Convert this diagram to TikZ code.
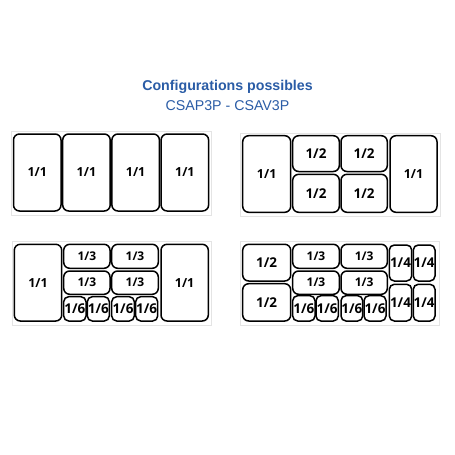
\documentclass[tikz,border=0pt]{standalone}
\usepackage{fontspec}
\setmainfont{Liberation Sans}
\newfontfamily\labfont{Open Sans}
\definecolor{ttl}{RGB}{42,92,166}
\definecolor{frm}{RGB}{228,228,228}
\tikzset{
  box/.style={draw=black,line width=1.5pt,rounded corners=6pt,inner sep=0pt,fill=white,
    font=\labfont\bfseries\fontsize{12.5}{13}\selectfont},
  sm/.style={rounded corners=5pt,font=\labfont\bfseries\fontsize{13.5}{14}\selectfont},
  third/.style={font=\labfont\bfseries\fontsize{12}{13}\selectfont},
  half/.style={font=\labfont\bfseries\fontsize{13.5}{14}\selectfont},
  frame/.style={draw=frm,line width=0.8pt}
}
\newcommand\bx[7][]{\node[box,#1,minimum width={(#4)-(#2)},minimum height={(#5)-(#3)}] (#6) at ({((#2)+(#4))/2},{((#3)+(#5))/2}) {#7};}
\begin{document}
\begin{tikzpicture}[x=1pt,y=-1pt]
\useasboundingbox[fill=white] (0,0) rectangle (455,455);
\node[font=\bfseries\fontsize{14.2}{16}\selectfont,text=ttl,anchor=base,inner sep=0pt] (title) at (227.5,90.5) {Configurations possibles};
\node[font=\fontsize{14.2}{16}\selectfont,text=ttl,anchor=base,inner sep=0pt] (sub) at (227.5,110) {CSAP3P - CSAV3P};
% frames
\draw[frame] (11,131.5) rectangle (211,215);
\draw[frame] (240,133) rectangle (440,216);
\draw[frame] (12,241) rectangle (211,325);
\draw[frame] (240,241) rectangle (439,325);
% panel 1
\bx{13.5}{134}{61}{211}{a1}{1/1}
\bx{62.7}{134}{110.2}{211}{a2}{1/1}
\bx{111.9}{134}{159.4}{211}{a3}{1/1}
\bx{161.1}{134}{208.6}{211}{a4}{1/1}
% panel 2
\bx{242.7}{135.7}{290.7}{212.3}{b1}{1/1}
\bx[half]{292.7}{135.7}{339.3}{171.5}{b2}{1/2}
\bx[half]{341}{135.7}{387.3}{171.5}{b3}{1/2}
\bx[half]{292.7}{174.3}{339.3}{212.3}{b4}{1/2}
\bx[half]{341}{174.3}{387.3}{212.3}{b5}{1/2}
\bx{390}{135.7}{437}{212.3}{b6}{1/1}
% panel 3
\bx{14.3}{244.3}{61.7}{321}{c1}{1/1}
\bx[third]{63.7}{244.3}{110}{268.3}{c2}{1/3}
\bx[third]{111.7}{244.3}{158.3}{268.3}{c3}{1/3}
\bx[third]{63.7}{271}{110}{294.3}{c4}{1/3}
\bx[third]{111.7}{271}{158.3}{294.3}{c5}{1/3}
\bx[sm]{63.7}{296.7}{86}{321}{c6}{1/6}
\bx[sm]{87.3}{296.7}{109.3}{321}{c7}{1/6}
\bx[sm]{111.7}{296.7}{134.3}{321}{c8}{1/6}
\bx[sm]{135.7}{296.7}{157.7}{321}{c9}{1/6}
\bx{161}{244.3}{208.3}{321}{c10}{1/1}
% panel 4
\bx[half]{242.7}{244.3}{290.7}{281}{d1}{1/2}
\bx[half]{242.7}{283.7}{290.7}{321}{d2}{1/2}
\bx[third]{292.7}{244.3}{339.3}{268.3}{d3}{1/3}
\bx[third]{341}{244.3}{387.3}{268.3}{d4}{1/3}
\bx[third]{292.7}{271}{339.3}{294.3}{d5}{1/3}
\bx[third]{341}{271}{387.3}{294.3}{d6}{1/3}
\bx[sm]{292.7}{295.7}{315}{321}{d7}{1/6}
\bx[sm]{316}{295.7}{338.3}{321}{d8}{1/6}
\bx[sm]{341}{295.7}{362.7}{321}{d9}{1/6}
\bx[sm]{364}{295.7}{386}{321}{d10}{1/6}
\bx[sm]{389.3}{245}{411.7}{281}{d11}{1/4}
\bx[sm]{413.3}{245}{435}{281}{d12}{1/4}
\bx[sm]{389.3}{284.3}{411.7}{321}{d13}{1/4}
\bx[sm]{413.3}{284.3}{435}{321}{d14}{1/4}
\end{tikzpicture}
\end{document}
